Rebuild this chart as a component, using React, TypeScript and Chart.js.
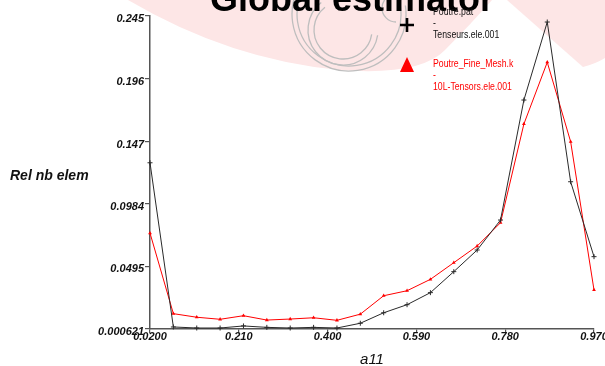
import React, { useEffect, useRef } from "react";
import { Chart, registerables } from "chart.js";

Chart.register(...registerables);

const xValues = [0.02, 0.07, 0.12, 0.17, 0.22, 0.27, 0.32, 0.37, 0.42, 0.47, 0.52, 0.57, 0.62, 0.67, 0.72, 0.77, 0.82, 0.87, 0.92, 0.97];
const seriesPat = [0.1304, 0.0022, 0.0014, 0.0014, 0.003, 0.0019, 0.0014, 0.0019, 0.0014, 0.0051, 0.0133, 0.0196, 0.029, 0.0454, 0.0623, 0.0857, 0.1794, 0.2403, 0.1156, 0.0571];
const seriesFine = [0.0755, 0.0126, 0.0098, 0.0082, 0.011, 0.0076, 0.0084, 0.0094, 0.0074, 0.0122, 0.0266, 0.0305, 0.0394, 0.0524, 0.0654, 0.0836, 0.1607, 0.2089, 0.1469, 0.0311];

const yTicks = [0.000621, 0.0495, 0.0984, 0.147, 0.196, 0.245];
const yTickLabels = ["0.000621", "0.0495", "0.0984", "0.147", "0.196", "0.245"];
const xTicks = [0.02, 0.21, 0.4, 0.59, 0.78, 0.97];
const xTickLabels = ["0.0200", "0.210", "0.400", "0.590", "0.780", "0.970"];

const legendPat = ["Poutre.pat", "-", "Tenseurs.ele.001"];
const legendFine = ["Poutre_Fine_Mesh.k", "-", "10L-Tensors.ele.001"];
const titleText = "Global estimator";
const yTitleText = "Rel nb elem";
const xTitleText = "a11";

const FONT = "'Liberation Sans', Arial, sans-serif";

function labelFor(values: number[], labels: string[], v: number) {
  let best = 0;
  for (let i = 0; i < values.length; i++) {
    if (Math.abs(values[i] - v) < Math.abs(values[best] - v)) best = i;
  }
  return labels[best];
}

const decorPlugin = {
  id: "decor",
  beforeDraw(chart: any) {
    const ctx = chart.ctx;
    ctx.save();
    ctx.fillStyle = "#ffffff";
    ctx.fillRect(0, 0, chart.width, chart.height);
    // pink watermark swoosh
    ctx.fillStyle = "rgba(253,230,230,1)";
    ctx.beginPath();
    ctx.moveTo(128, 0);
    ctx.quadraticCurveTo(230, 60, 340, 70);
    ctx.quadraticCurveTo(420, 76, 445, 50);
    ctx.quadraticCurveTo(470, 25, 492, 0);
    ctx.closePath();
    ctx.fill();
    ctx.beginPath();
    ctx.moveTo(507, 0);
    ctx.lineTo(583, 67);
    ctx.quadraticCurveTo(595, 64, 605, 58);
    ctx.lineTo(605, 0);
    ctx.closePath();
    ctx.fill();
    // grey logo
    ctx.strokeStyle = "rgba(190,190,190,1)";
    ctx.lineWidth = 1.3;
    [57, 52].forEach((r) => {
      ctx.beginPath();
      ctx.arc(349, 14, r, -0.15, Math.PI + 0.3, false);
      ctx.stroke();
    });
    [35, 29].forEach((r) => {
      ctx.beginPath();
      ctx.arc(343, 30, r, Math.PI + 0.9, Math.PI * 2 + 0.15, true);
      ctx.stroke();
    });
    ctx.beginPath();
    ctx.arc(396, 8, 14, Math.PI * 0.5, Math.PI * 1.2, false);
    ctx.stroke();
    ctx.restore();
  },
  afterDraw(chart: any) {
    const ctx = chart.ctx;
    ctx.save();
    // title (partly off the top)
    ctx.fillStyle = "#000";
    ctx.font = `bold 36px ${FONT}`;
    ctx.textAlign = "center";
    ctx.textBaseline = "alphabetic";
    ctx.fillText(titleText, 352, 11);
    // axis titles
    ctx.font = `bold italic 14px ${FONT}`;
    ctx.textAlign = "left";
    ctx.textBaseline = "middle";
    ctx.fillStyle = "#111";
    ctx.fillText(yTitleText, 10, 176);
    ctx.font = `italic 15px ${FONT}`;
    ctx.textAlign = "center";
    ctx.fillText(xTitleText, 372, 360);
    // legend
    const drawLines = (lines: string[], x: number, y0: number, color: string) => {
      ctx.fillStyle = color;
      ctx.font = `10px ${FONT}`;
      ctx.textAlign = "left";
      ctx.textBaseline = "middle";
      lines.forEach((t, i) => {
        ctx.save();
        ctx.translate(x, y0 + i * 11.7);
        ctx.scale(0.87, 1);
        ctx.fillText(t, 0, 0);
        ctx.restore();
      });
    };
    drawLines(legendPat, 433, 12, "#111");
    drawLines(legendFine, 433, 64, "#ff0000");
    ctx.strokeStyle = "#000";
    ctx.lineWidth = 2.6;
    ctx.beginPath();
    ctx.moveTo(400, 25);
    ctx.lineTo(414, 25);
    ctx.moveTo(407, 18);
    ctx.lineTo(407, 32);
    ctx.stroke();
    ctx.fillStyle = "#ff0000";
    ctx.beginPath();
    ctx.moveTo(407, 57);
    ctx.lineTo(414, 72);
    ctx.lineTo(400, 72);
    ctx.closePath();
    ctx.fill();
    ctx.restore();
  },
};

export default function App() {
  const ref = useRef<HTMLCanvasElement | null>(null);
  useEffect(() => {
    if (!ref.current) return;
    const tickFont = { family: FONT, size: 11, weight: "bold" as const, style: "italic" as const };
    const chart = new Chart(ref.current, {
      type: "line",
      data: {
        datasets: [
          {
            label: "Poutre.pat - Tenseurs.ele.001",
            data: xValues.map((x, i) => ({ x, y: seriesPat[i] })),
            borderColor: "#2a2a2a",
            backgroundColor: "#2a2a2a",
            borderWidth: 1,
            pointStyle: "cross",
            pointRadius: 2.5,
            pointBorderWidth: 1,
            tension: 0,
            clip: false as any,
          },
          {
            label: "Poutre_Fine_Mesh.k - 10L-Tensors.ele.001",
            data: xValues.map((x, i) => ({ x, y: seriesFine[i] })),
            borderColor: "#ff0000",
            backgroundColor: "#ff0000",
            borderWidth: 1,
            pointStyle: "triangle",
            pointRadius: 2.2,
            pointBorderWidth: 0,
            tension: 0,
            clip: false as any,
          },
        ],
      },
      options: {
        responsive: false,
        animation: false,
        events: [],
        layout: { padding: { top: 16, right: 11, left: 0, bottom: 0 } },
        plugins: { legend: { display: false }, tooltip: { enabled: false }, title: { display: false } },
        scales: {
          x: {
            type: "linear",
            min: 0.02,
            max: 0.97,
            afterBuildTicks: (s: any) => {
              s.ticks = xTicks.map((v) => ({ value: v }));
            },
            afterFit: (s: any) => {
              s.height = 37;
              s.paddingLeft = 0;
              s.paddingRight = 0;
            },
            ticks: {
              autoSkip: false,
              maxRotation: 0,
              padding: -3,
              color: "#111",
              font: tickFont,
              callback: (v: any) => labelFor(xTicks, xTickLabels, Number(v)),
            },
            grid: { drawOnChartArea: false, drawTicks: true, tickLength: 4, color: "#555", lineWidth: 1.2 },
            border: { display: true, color: "#555", width: 1.5 },
          },
          y: {
            type: "linear",
            min: 0.000621,
            max: 0.245,
            afterBuildTicks: (s: any) => {
              s.ticks = yTicks.map((v) => ({ value: v }));
            },
            afterFit: (s: any) => {
              s.width = 150;
              s.paddingTop = 0;
              s.paddingBottom = 0;
            },
            ticks: {
              autoSkip: false,
              padding: 1,
              labelOffset: 3,
              color: "#111",
              font: tickFont,
              callback: (v: any) => labelFor(yTicks, yTickLabels, Number(v)),
            },
            grid: { drawOnChartArea: false, drawTicks: true, tickLength: 5, color: "#555", lineWidth: 1.2 },
            border: { display: true, color: "#555", width: 1.5 },
          },
        },
      },
      plugins: [decorPlugin],
    });
    return () => chart.destroy();
  }, []);
  return (
    <div style={{ position: "fixed", left: 0, top: 0, width: 605, height: 366, background: "#fff" }}>
      <canvas ref={ref} width={605} height={366} style={{ width: 605, height: 366, display: "block" }} />
    </div>
  );
}
